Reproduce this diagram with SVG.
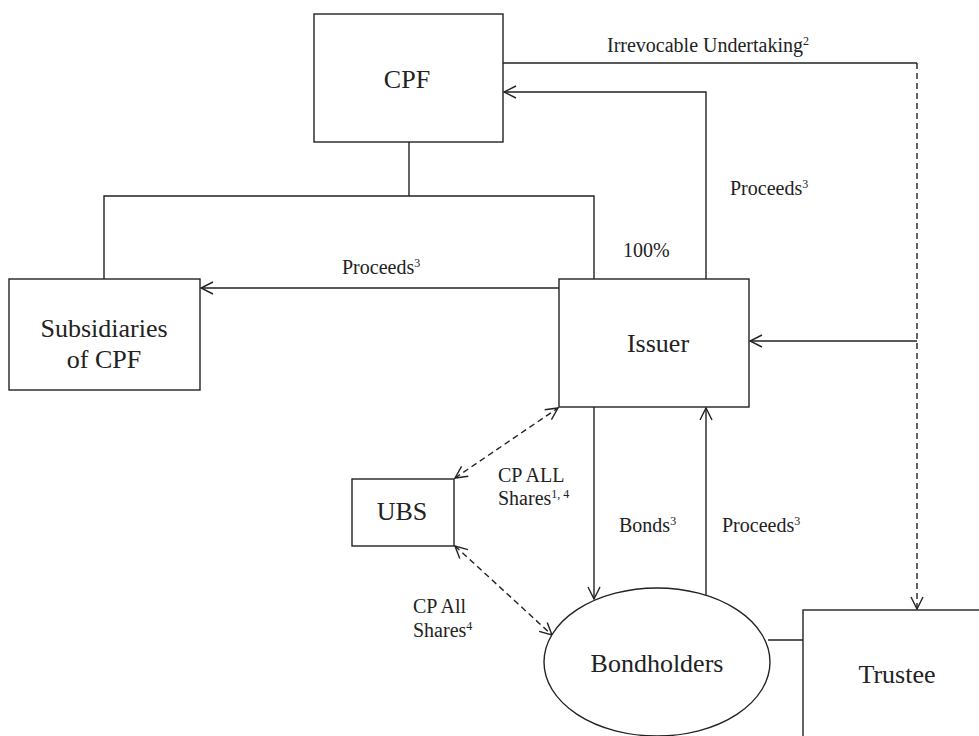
<svg xmlns="http://www.w3.org/2000/svg" width="979" height="736" viewBox="0 0 979 736">
<style>
.box{fill:#fff;stroke:#222;stroke-width:1.4}
.ln{fill:none;stroke:#222;stroke-width:1.4}
.ds{fill:none;stroke:#222;stroke-width:1.4;stroke-dasharray:6 4}
.nt{font-family:'Liberation Serif','DejaVu Serif',serif;font-size:26px;fill:#222;text-anchor:middle}
.lb{font-family:'Liberation Serif','DejaVu Serif',serif;font-size:20px;fill:#222}
.sup{font-size:12px}
</style>
<defs>
<marker id="ah" viewBox="0 0 14 14" refX="13" refY="7" markerWidth="14" markerHeight="14" markerUnits="userSpaceOnUse" orient="auto-start-reverse">
<path d="M1,1 L13,7 L1,13" fill="none" stroke="#222" stroke-width="1.4"/>
</marker>
</defs>
<rect width="979" height="736" fill="#fff"/>
<g id="connectors">
<path class="ln" d="M503,63 H917"/>
<path class="ds" d="M917,63 V609" marker-end="url(#ah)"/>
<path class="ln" d="M706,279 V92 H504" marker-end="url(#ah)"/>
<path class="ln" d="M409,142 V196 M104,279 V196 H594 V279"/>
<path class="ln" d="M559,288 H201" marker-end="url(#ah)"/>
<path class="ln" d="M917,341 H750" marker-end="url(#ah)"/>
<path class="ln" d="M594,407 V599" marker-end="url(#ah)"/>
<path class="ln" d="M706,595 V408" marker-end="url(#ah)"/>
<path class="ds" d="M455,478 L558,408" marker-start="url(#ah)" marker-end="url(#ah)"/>
<path class="ds" d="M455,546 L552,635" marker-start="url(#ah)" marker-end="url(#ah)"/>
<path class="ln" d="M768,640 H803"/>
</g>
<g id="cpf">
<rect class="box" x="314" y="14" width="189" height="128"/>
<text class="nt" x="407" y="88" font-family="Liberation Serif">CPF</text>
</g>
<g id="subsidiaries">
<rect class="box" x="9" y="279" width="191" height="111"/>
<text class="nt" x="104" y="337">Subsidiaries</text>
<text class="nt" x="104" y="368">of CPF</text>
</g>
<g id="issuer">
<rect class="box" x="559" y="279" width="190" height="128"/>
<text class="nt" x="658" y="352">Issuer</text>
</g>
<g id="ubs">
<rect class="box" x="352" y="479" width="102" height="67"/>
<text class="nt" x="402" y="520">UBS</text>
</g>
<g id="bondholders">
<ellipse class="box" cx="657" cy="662" rx="113" ry="74"/>
<text class="nt" x="657" y="672">Bondholders</text>
</g>
<g id="trustee">
<rect class="box" x="803" y="610" width="260" height="200"/>
<text class="nt" x="897" y="683">Trustee</text>
</g>
<g id="labels">
<text class="lb" x="607" y="52">Irrevocable Undertaking<tspan class="sup" dy="-7">2</tspan></text>
<text class="lb" x="730" y="195">Proceeds<tspan class="sup" dy="-7">3</tspan></text>
<text class="lb" x="342" y="274">Proceeds<tspan class="sup" dy="-7">3</tspan></text>
<text class="lb" x="623" y="257">100%</text>
<text class="lb" x="498" y="482">CP ALL</text>
<text class="lb" x="498" y="505">Shares<tspan class="sup" dy="-7">1, 4</tspan></text>
<text class="lb" x="619" y="532">Bonds<tspan class="sup" dy="-7">3</tspan></text>
<text class="lb" x="722" y="532">Proceeds<tspan class="sup" dy="-7">3</tspan></text>
<text class="lb" x="413" y="613">CP All</text>
<text class="lb" x="413" y="637">Shares<tspan class="sup" dy="-7">4</tspan></text>
</g>
</svg>
